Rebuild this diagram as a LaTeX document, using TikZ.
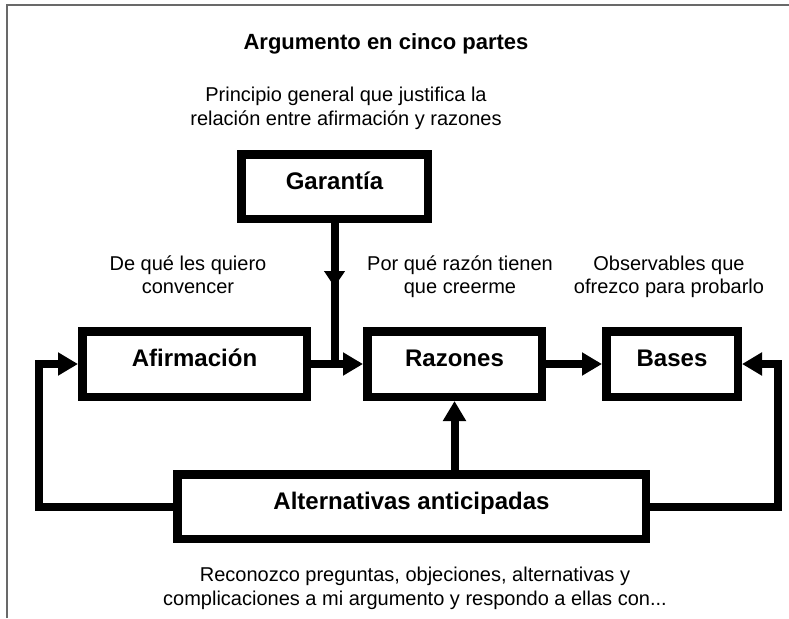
\documentclass[tikz,border=0pt]{standalone}
\usepackage{fontspec}
\setmainfont{Liberation Sans}
\usepackage{tikz}
\usetikzlibrary{arrows.meta, positioning}
\definecolor{framegray}{RGB}{105, 105, 105}

\begin{document}
\begin{tikzpicture}[x=1pt, y=-1pt,
  part/.style={draw, line width=8.5pt, fill=white, inner sep=0pt, text height=14pt, text depth=9pt, font=\fontsize{24}{28}\selectfont\bfseries},
  note/.style={align=center, anchor=base, font=\fontsize{20}{23.5}\selectfont},
  link/.style={line width=8pt, line join=miter},
  arrow/.style={link, -{Triangle[length=20pt, width=22pt]}},
  midarrow/.style={link, -{Triangle[length=16pt, width=20pt]}}]

  \useasboundingbox (0,0) rectangle (789,618);
  \draw[framegray, line width=2pt] (7,618) -- (7,5) -- (789,5);

  \node[anchor=base, font=\fontsize{22}{26}\selectfont\bfseries] (title) at (386,49) {Argumento en cinco partes};

  \node[part, minimum width=186.5pt, minimum height=64.5pt] (gar) at (334.5,186.5) {Garantía};
  \node[part, minimum width=224.5pt, minimum height=65.5pt] (afi) at (194.5,364) {Afirmación};
  \node[part, minimum width=174.5pt, minimum height=65.5pt, right=52pt of afi] (raz) {Razones};
  \node[part, minimum width=131.5pt, minimum height=65.5pt, right=56pt of raz] (bas) {Bases};
  \node[part, minimum width=468.5pt, minimum height=64.5pt] (alt) at (411.5,506.5) {Alternativas anticipadas};

  \node[note] (gartxt) at (346,125) {Principio general que justifica la\\relación entre afirmación y razones};
  \node[note] (afitxt) at (188,293.5) {De qué les quiero\\convencer};
  \node[note] (raztxt) at (460,293.5) {Por qué razón tienen\\que creerme};
  \node[note] (bastxt) at (669,293.5) {Observables que\\ofrezco para probarlo};
  \node[note] (alttxt) at (415,605) {Reconozco preguntas, objeciones, alternativas y\\complicaciones a mi argumento y respondo a ellas con...};

  \draw[link] (gar.south) -- (gar.south |- afi.east);
  \draw[midarrow] (gar.south) -- ++(0,64);
  \draw[arrow] (afi) -- (raz);
  \draw[arrow] (raz) -- (bas);
  \draw[arrow] (alt.north -| raz.south) -- (raz.south);
  \draw[arrow] (alt.west) -| ([xshift=-39pt]afi.west) -- (afi.west);
  \draw[arrow] (alt.east) -| ([xshift=36pt]bas.east) -- (bas.east);
\end{tikzpicture}
\end{document}
